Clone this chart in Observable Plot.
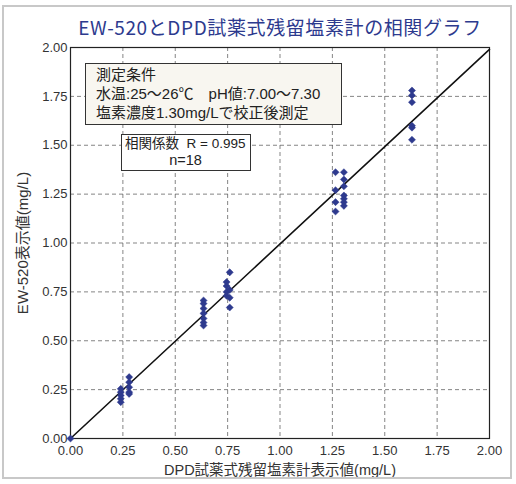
<!DOCTYPE html>
<html><head><meta charset="utf-8">
<script src="https://cdn.jsdelivr.net/npm/d3@7"></script>
<script src="https://cdn.jsdelivr.net/npm/@observablehq/plot@0.6"></script>
<style>
html,body{margin:0;padding:0;background:#fff;}
#wrap{position:relative;width:516px;height:484px;overflow:hidden;font-family:"Liberation Sans","Noto Sans CJK JP",sans-serif;}
#border{position:absolute;left:2px;top:5px;width:510px;height:474px;border:2px solid #c8c8c8;box-sizing:border-box;pointer-events:none;}
#title{position:absolute;left:0;top:15px;width:560px;text-align:center;font-family:"Noto Sans CJK JP",sans-serif;font-size:19px;color:#2d3a8e;letter-spacing:0.6px;white-space:nowrap;line-height:24px;}
#chart{position:absolute;left:0;top:40px;}
.box{position:absolute;border:1px solid #333;font-family:"Liberation Sans","Noto Sans CJK JP",sans-serif;color:#222;font-size:15px;line-height:19px;box-sizing:border-box;white-space:nowrap;}
</style></head>
<body><div id="wrap">
<div id="title">EW-520とDPD試薬式残留塩素計の相関グラフ</div>
<div id="chart"></div>
<div class="box" style="left:85px;top:63px;width:257px;height:62px;background:#f8f6f0;padding:1px 0 0 10px;">
<div>測定条件</div>
<div>水温:25～26℃　pH値:7.00～7.30</div>
<div>塩素濃度1.30mg/Lで校正後測定</div>
</div>
<div class="box" style="left:121px;top:134px;width:130px;height:37px;background:#fff;padding:0 0 0 3px;line-height:17px;font-size:13.5px;">
<div>相関係数&nbsp;&nbsp;R = 0.995</div>
<div style="text-align:center;padding-right:4px;font-size:14.5px;">n=18</div>
</div>
<div id="border"></div>
</div>
<script>
const dpdValues = [0,
  0.24,0.24,0.24,0.24,0.24,
  0.28,0.28,0.28,0.28,0.28,
  0.635,0.635,0.635,0.635,0.635,0.635,0.635,
  0.745,0.745,0.745,0.745,0.76,0.76,0.76,0.76,
  1.265,1.265,1.265,1.265,
  1.305,1.305,1.305,1.305,1.305,1.305,1.305,
  1.63,1.63,1.63,1.63,1.63,1.63];
const ew520Values = [0,
  0.254,0.237,0.22,0.203,0.186,
  0.314,0.288,0.262,0.237,0.228,
  0.706,0.69,0.665,0.64,0.614,0.593,0.578,
  0.80,0.78,0.75,0.73,0.85,0.76,0.72,0.67,
  1.362,1.27,1.209,1.161,
  1.362,1.325,1.29,1.243,1.226,1.209,1.19,
  1.78,1.755,1.72,1.60,1.59,1.528];
const fitX = [0, 2];
const fitY = [0, 1.99];
const tickValues = [0,0.25,0.5,0.75,1,1.25,1.5,1.75,2];

const points = dpdValues.map((x,i)=>({x, y: ew520Values[i]}));
const fit = fitX.map((x,i)=>({x, y: fitY[i]}));
const fmt = d3.format(".2f");

const chart = Plot.plot({
  width: 516, height: 444,
  marginTop: 7, marginLeft: 70, marginRight: 27, marginBottom: 46,
  style: {fontFamily: '"Liberation Sans","Noto Sans CJK JP",sans-serif', fontSize: "13px", color: "#333", background: "transparent"},
  x: {domain: [0, 2]},
  y: {domain: [0, 2]},
  marks: [
    Plot.gridX(tickValues.slice(1, -1), {stroke: "#666", strokeOpacity: 0.8, strokeDasharray: "4,3"}),
    Plot.gridY(tickValues.slice(1, -1), {stroke: "#666", strokeOpacity: 0.8, strokeDasharray: "4,3"}),
    Plot.axisX(tickValues, {tickSize: 0, tickPadding: 7, tickFormat: fmt, fontSize: 13, label: null}),
    Plot.axisX({tickSize: 0, ticks: [], label: "DPD試薬式残留塩素計表示値(mg/L)", labelAnchor: "center", labelArrow: "none", labelOffset: 36, fontSize: 14.5}),
    Plot.axisY(tickValues, {tickSize: 0, tickPadding: 3, tickFormat: fmt, fontSize: 13, label: null}),
    Plot.axisY({tickSize: 0, ticks: [], label: "EW-520表示値(mg/L)", labelAnchor: "center", labelArrow: "none", labelOffset: 53, fontSize: 15}),
    Plot.frame({stroke: "#222", strokeWidth: 1.2}),
    Plot.line(fit, {x: "x", y: "y", stroke: "#111", strokeWidth: 1.6}),
    Plot.dot(points, {x: "x", y: "y", symbol: "diamond2", r: 3.2, fill: "#2e3a8e", stroke: "#2e3a8e", strokeWidth: 0.5})
  ]
});
document.getElementById("chart").appendChild(chart);
</script>
</body></html>
